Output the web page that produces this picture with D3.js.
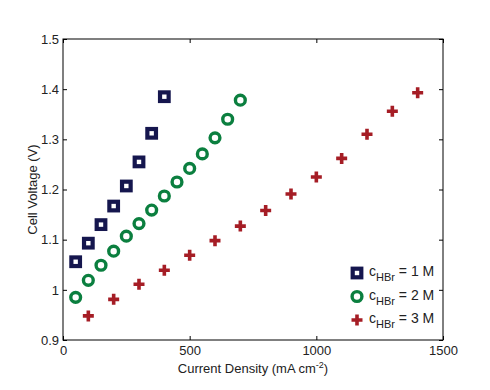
<!DOCTYPE html>
<html>
<head>
<meta charset="utf-8">
<script src="https://cdn.jsdelivr.net/npm/d3@7"></script>
<style>
  body { margin: 0; background: white; }
  text { font-family: "Liberation Sans", Arial, sans-serif; fill: #222; }
</style>
</head>
<body>
<div id="chart"></div>
<script>
// data
var x1M = [50, 100, 150, 200, 250, 300, 350, 400];
var v1M = [1.056, 1.093, 1.130, 1.167, 1.207, 1.255, 1.312, 1.385];

var x2M = [50, 100, 150, 200, 250, 300, 350, 400, 450, 500, 550, 600, 650, 700];
var v2M = [0.985, 1.019, 1.049, 1.077, 1.107, 1.132, 1.159, 1.187, 1.215, 1.242, 1.271, 1.303, 1.340, 1.378];

var x3M = [100, 200, 300, 400, 500, 600, 700, 800, 900, 1000, 1100, 1200, 1300, 1400];
var v3M = [0.948, 0.981, 1.011, 1.039, 1.069, 1.098, 1.127, 1.158, 1.191, 1.225, 1.262, 1.310, 1.356, 1.393];

var xTicks = [0, 500, 1000, 1500];
var yTicks = [0.9, 1, 1.1, 1.2, 1.3, 1.4, 1.5];
var legendLabels = ["1 M", "2 M", "3 M"];

var svgWidth = 490;
var svgHeight = 390;
var margin = { top: 39, right: 47, bottom: 50, left: 63 };
var width = svgWidth - margin.left - margin.right;
var height = svgHeight - margin.top - margin.bottom;

var svg = d3.select("#chart")
  .append("svg")
  .attr("width", svgWidth)
  .attr("height", svgHeight);

var chartGroup = svg.append("g")
  .attr("transform", `translate(${margin.left}, ${margin.top})`);

var xScale = d3.scaleLinear().domain([0, 1500]).range([0, width]);
var yScale = d3.scaleLinear().domain([0.9, 1.5]).range([height, 0]);

// axes with inward ticks on all four sides
function styleAxis(g) {
  g.select(".domain").remove();
  g.selectAll("line").attr("stroke", "#000");
  g.selectAll("text").style("font-size", "13px").attr("fill", "#222");
}

chartGroup.append("g")
  .attr("transform", `translate(0, ${height})`)
  .call(d3.axisBottom(xScale).tickValues(xTicks).tickSizeInner(-4).tickSizeOuter(0).tickPadding(6).tickFormat(d3.format("d")))
  .call(styleAxis);

chartGroup.append("g")
  .call(d3.axisTop(xScale).tickValues(xTicks).tickSizeInner(-4).tickSizeOuter(0).tickFormat(""))
  .call(styleAxis);

chartGroup.append("g")
  .call(d3.axisLeft(yScale).tickValues(yTicks).tickSizeInner(-4).tickSizeOuter(0).tickPadding(4).tickFormat(d => d === 1 ? "1" : d3.format(".1f")(d)))
  .call(styleAxis);

chartGroup.append("g")
  .attr("transform", `translate(${width}, 0)`)
  .call(d3.axisRight(yScale).tickValues(yTicks).tickSizeInner(-4).tickSizeOuter(0).tickFormat(""))
  .call(styleAxis);

chartGroup.append("rect")
  .attr("width", width)
  .attr("height", height)
  .attr("fill", "none")
  .attr("stroke", "#000")
  .attr("stroke-width", 1);

var navy = "#15164e";
var green = "#0b7f3f";
var red = "#a51d25";

var crossPath = "M-1.8,-5.5H1.8V-1.8H5.5V1.8H1.8V5.5H-1.8V1.8H-5.5V-1.8H-1.8Z";

// markers
function drawSquares(g, pts) {
  g.selectAll(null).data(pts).enter().append("rect")
    .attr("x", d => d[0] - 4.3)
    .attr("y", d => d[1] - 4.3)
    .attr("width", 8.6)
    .attr("height", 8.6)
    .attr("fill", "white")
    .attr("stroke", navy)
    .attr("stroke-width", 4.2);
}
function drawCircles(g, pts) {
  g.selectAll(null).data(pts).enter().append("circle")
    .attr("cx", d => d[0])
    .attr("cy", d => d[1])
    .attr("r", 4.9)
    .attr("fill", "white")
    .attr("stroke", green)
    .attr("stroke-width", 3.4);
}
function drawCrosses(g, pts) {
  g.selectAll(null).data(pts).enter().append("path")
    .attr("transform", d => `translate(${d[0]}, ${d[1]})`)
    .attr("d", crossPath)
    .attr("fill", red);
}

var markGroup = chartGroup.append("g");
drawSquares(markGroup, x1M.map((x, i) => [xScale(x), yScale(v1M[i])]));
drawCircles(markGroup, x2M.map((x, i) => [xScale(x), yScale(v2M[i])]));
drawCrosses(markGroup, x3M.map((x, i) => [xScale(x), yScale(v3M[i])]));

// legend
var legend = chartGroup.append("g")
  .attr("transform", `translate(${width - 86}, ${height - 67})`);
var drawers = [drawSquares, drawCircles, drawCrosses];
legendLabels.forEach(function(lab, i) {
  var ly = i * 23.5;
  drawers[i](legend, [[0, ly]]);
  var t = legend.append("text")
    .attr("x", 12)
    .attr("y", ly + 3)
    .style("font-size", "14px");
  t.append("tspan").text("c");
  t.append("tspan").attr("dy", 5).style("font-size", "11px").text("HBr");
  t.append("tspan").attr("dy", -5).text(" = " + lab);
});

// axis labels
svg.append("text")
  .attr("x", margin.left + width / 2)
  .attr("y", 373)
  .attr("text-anchor", "middle")
  .style("font-size", "13px")
  .call(function(t) {
    t.append("tspan").text("Current Density (mA cm");
    t.append("tspan").attr("dy", -5).style("font-size", "9px").text("-2");
    t.append("tspan").attr("dy", 5).text(")");
  });

svg.append("text")
  .attr("transform", "rotate(-90)")
  .attr("x", -(margin.top + height / 2))
  .attr("y", 37)
  .attr("text-anchor", "middle")
  .style("font-size", "13px")
  .text("Cell Voltage (V)");
</script>
</body>
</html>
